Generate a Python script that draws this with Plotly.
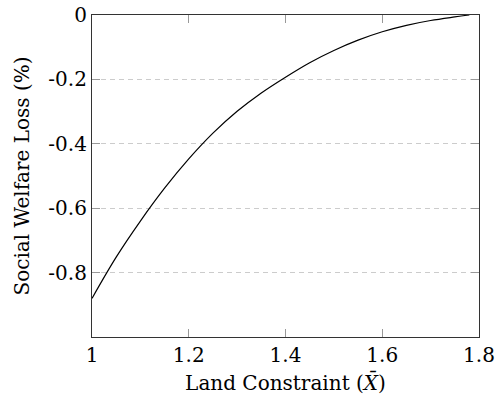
import plotly.graph_objects as go

land_constraint = [1.00, 1.05, 1.10, 1.15, 1.20, 1.25, 1.30, 1.35, 1.40, 1.45, 1.50, 1.55, 1.60, 1.65, 1.70, 1.75, 1.78]
welfare_loss = [-0.880, -0.752, -0.640, -0.538, -0.447, -0.367, -0.299, -0.242, -0.193, -0.148, -0.110, -0.078, -0.052, -0.032, -0.017, -0.006, 0.0]

x_ticks = [1, 1.2, 1.4, 1.6, 1.8]
x_ticktext = ["1", "1.2", "1.4", "1.6", "1.8"]
y_ticks = [0, -0.2, -0.4, -0.6, -0.8]
y_ticktext = ["0", "-0.2", "-0.4", "-0.6", "-0.8"]

FONT = "DejaVu Serif, serif"

fig = go.Figure()
fig.add_trace(go.Scatter(x=land_constraint, y=welfare_loss, mode="lines",
                         line=dict(color="black", width=1.2, shape="spline", smoothing=1.0),
                         showlegend=False, hoverinfo="skip"))

fig.update_layout(
    width=496, height=399,
    margin=dict(l=92, r=17, t=15, b=62),
    paper_bgcolor="white", plot_bgcolor="white",
    font=dict(family=FONT, size=20, color="black"),
)
fig.update_xaxes(
    range=[1, 1.8], tickvals=x_ticks, ticktext=x_ticktext,
    ticks="inside", ticklen=8, tickcolor="#999", tickwidth=1,
    showline=True, linecolor="#333", linewidth=1.2, mirror="ticks",
    showgrid=False, zeroline=False, automargin=False,
    title=dict(text="Land Constraint (<i>X̄</i>)", standoff=9, font=dict(size=20)),
)
fig.update_yaxes(
    range=[-1, 0], tickvals=y_ticks, ticktext=y_ticktext,
    ticks="inside", ticklen=8, tickcolor="#999", tickwidth=1,
    showline=True, linecolor="#333", linewidth=1.2, mirror="ticks",
    showgrid=True, gridcolor="#cccccc", griddash="5px,4px", gridwidth=1,
    zeroline=False, automargin=False,
    title=dict(text="Social Welfare Loss (%)", standoff=13, font=dict(size=20)),
)

fig.write_html("out.html",
               config={"displayModeBar": False},
               post_script="document.body.style.margin='0';document.body.style.overflow='hidden';")
